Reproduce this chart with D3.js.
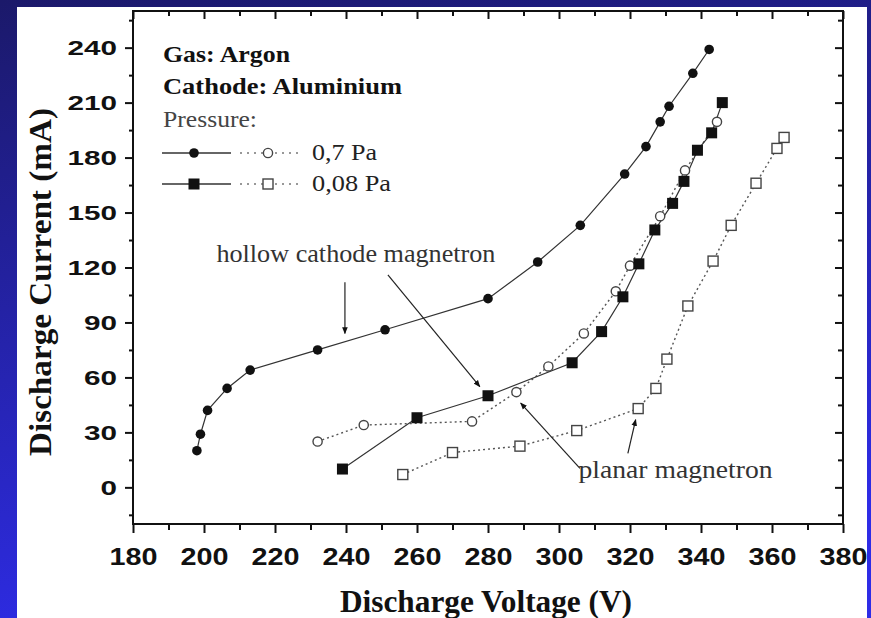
<!DOCTYPE html>
<html><head><meta charset="utf-8">
<script src="https://cdn.jsdelivr.net/npm/d3@7"></script>
<style>html,body{margin:0;padding:0;background:#1c1a6c;}svg{display:block;}
.serif{font-family:"Liberation Serif","Times New Roman",Times,serif;}
.sans{font-family:"Liberation Sans",Arial,Helvetica,sans-serif;}
</style>
</head><body>
<script>
// ---- data (Discharge Voltage V, Discharge Current mA) ----
const hollow07V = [198, 199, 201, 206.5, 213, 232, 251, 280, 294, 306, 318.5, 324.5, 328.5, 331, 337.7, 342.3];
const hollow07I = [20, 29, 42, 54, 64, 75, 86, 103, 123, 143, 171, 186, 199.5, 208, 226, 239];
const planar07V = [232, 245, 275.5, 288, 297, 307, 316, 320, 328.5, 335.5, 344.5];
const planar07I = [25, 34, 36, 52, 66, 84, 107, 121, 148, 173, 199.5];
const hollow008V = [239, 260, 280, 303.7, 312, 318, 322.5, 327, 332, 335.2, 339, 343, 346];
const hollow008I = [10, 38, 50, 68, 85, 104, 122, 140.5, 155, 167, 184, 193.5, 210];
const planar008V = [256, 270, 289, 305, 322.3, 327.3, 330.4, 336.3, 343.4, 348.5, 355.5, 361.4, 363.4];
const planar008I = [7, 19, 22.5, 31, 43, 54, 70, 99, 123.5, 143, 166, 185, 191];
const xTicks = [180, 200, 220, 240, 260, 280, 300, 320, 340, 360, 380];
const yTicks = [0, 30, 60, 90, 120, 150, 180, 210, 240];
const infoLines = ["Gas: Argon", "Cathode: Aluminium", "Pressure:"];
const legendLabels = ["0,7 Pa", "0,08 Pa"];
const xTitle = "Discharge Voltage (V)";
const yTitle = "Discharge Current (mA)";
// annotations in data units: label, position, arrows [from, to]
const hollowLabel = {text: "hollow cathode magnetron", v: 203.5, i: 123};
const hollowArrows = [[[239.7, 112], [239.7, 84]], [[251.8, 116], [277.7, 55]]];
const planarLabel = {text: "planar magnetron", v: 305.5, i: 5};
const planarArrows = [[[305.9, 10.4], [289.2, 46]], [[319.4, 18.6], [321.6, 37]]];

const W = 871, H = 618;
const svg = d3.select("body").append("svg").attr("width", W).attr("height", H);
const defs = svg.append("defs");
const grad = defs.append("linearGradient").attr("id", "bg").attr("x1", 0).attr("y1", 0).attr("x2", 0.25).attr("y2", 1);
grad.append("stop").attr("offset", "0%").attr("stop-color", "#1b196a");
grad.append("stop").attr("offset", "100%").attr("stop-color", "#2e2ce6");
svg.append("rect").attr("width", W).attr("height", H).attr("fill", "url(#bg)");
svg.append("rect").attr("x", 17).attr("y", 7).attr("width", 850).attr("height", 611).attr("fill", "#ffffff");

defs.append("marker").attr("id", "arr").attr("viewBox", "0 0 10 10").attr("refX", 9).attr("refY", 5)
  .attr("markerWidth", 7).attr("markerHeight", 7).attr("markerUnits", "userSpaceOnUse").attr("orient", "auto")
  .append("path").attr("d", "M0,1 L10,5 L0,9 Z").attr("fill", "#111");

const L = 133, R = 843, T = 11, B = 524;
const x = d3.scaleLinear().domain([180, 380]).range([L, R]);
const y = d3.scaleLinear().domain([-20, 260]).range([B, T]);

// axes
const minorX = d3.range(190, 380, 20);
const minorY = d3.range(-15, 260, 30);
function drawAxis(gen, tr) {
  const g = svg.append("g").attr("transform", tr).call(gen);
  g.selectAll(".domain").remove();
  g.selectAll("line").attr("stroke", "#111").attr("stroke-width", 2);
  g.attr("font-family", null).attr("font-size", null);
  return g;
}
const gxB = drawAxis(d3.axisBottom(x).tickValues(xTicks).tickSize(9).tickPadding(11).tickFormat(d3.format("d")), `translate(0,${B})`);
gxB.selectAll("text").attr("class", "sans").attr("font-weight", "bold").attr("font-size", 23).attr("fill", "#111")
  .attr("textLength", 48).attr("lengthAdjust", "spacingAndGlyphs").attr("dy", "0.92em");
drawAxis(d3.axisBottom(x).tickValues(minorX).tickSize(6).tickFormat(""), `translate(0,${B})`);
const gyL = drawAxis(d3.axisLeft(y).tickValues(yTicks).tickSize(8).tickPadding(8).tickFormat(d3.format("d")), `translate(${L},0)`);
gyL.selectAll("text").attr("class", "sans").attr("font-weight", "bold").attr("font-size", 21).attr("fill", "#111")
  .attr("textLength", d => String(d).length * 16.5).attr("lengthAdjust", "spacingAndGlyphs");
drawAxis(d3.axisLeft(y).tickValues(minorY).tickSize(4).tickFormat(""), `translate(${L},0)`);
// inner ticks top and right
drawAxis(d3.axisBottom(x).tickValues(xTicks).tickSize(8).tickFormat(""), `translate(0,${T})`);
drawAxis(d3.axisBottom(x).tickValues(minorX).tickSize(5).tickFormat(""), `translate(0,${T})`);
drawAxis(d3.axisLeft(y).tickValues(yTicks).tickSize(8).tickFormat(""), `translate(${R},0)`);
drawAxis(d3.axisLeft(y).tickValues(minorY).tickSize(5).tickFormat(""), `translate(${R},0)`);
svg.append("rect").attr("x", L).attr("y", T).attr("width", R - L).attr("height", B - T)
  .attr("fill", "none").attr("stroke", "#111").attr("stroke-width", 2);

// axis titles
svg.append("text").attr("class", "serif").attr("x", (L + R) / 2 - 2).attr("y", 612).attr("text-anchor", "middle")
  .attr("font-weight", "bold").attr("font-size", 31).attr("fill", "#111")
  .attr("textLength", 292).attr("lengthAdjust", "spacingAndGlyphs").text(xTitle);
svg.append("text").attr("class", "serif").attr("transform", `translate(51,${(108 + 456) / 2}) rotate(-90)`).attr("text-anchor", "middle")
  .attr("font-weight", "bold").attr("font-size", 31).attr("fill", "#111")
  .attr("textLength", 348).attr("lengthAdjust", "spacingAndGlyphs").text(yTitle);

// series
const pairs = (a, b) => a.map((v, k) => [v, b[k]]);
const line = d3.line().x(d => x(d[0])).y(d => y(d[1]));
const series = [
  {data: pairs(hollow07V, hollow07I), shape: "circle", filled: true},
  {data: pairs(planar07V, planar07I), shape: "circle", filled: false},
  {data: pairs(hollow008V, hollow008I), shape: "square", filled: true},
  {data: pairs(planar008V, planar008I), shape: "square", filled: false}
];
function drawMarker(g, shape, filled, cx, cy) {
  if (shape === "circle") {
    g.append("circle").attr("cx", cx).attr("cy", cy).attr("r", filled ? 4.8 : 4.6)
      .attr("fill", filled ? "#111" : "#fff").attr("stroke", filled ? "none" : "#444").attr("stroke-width", 1.4);
  } else {
    const s = filled ? 11 : 10;
    g.append("rect").attr("x", cx - s / 2).attr("y", cy - s / 2).attr("width", s).attr("height", s)
      .attr("fill", filled ? "#111" : "#fff").attr("stroke", filled ? "none" : "#444").attr("stroke-width", 1.4);
  }
}
series.forEach(s => {
  svg.append("path").datum(s.data).attr("d", line).attr("fill", "none")
    .attr("stroke", s.filled ? "#333" : "#555").attr("stroke-width", s.filled ? 1.2 : 1.4)
    .attr("stroke-dasharray", s.filled ? null : "2,3");
});
series.forEach(s => {
  const g = svg.append("g");
  s.data.forEach(d => drawMarker(g, s.shape, s.filled, x(d[0]), y(d[1])));
});

// info text + legend
const info = svg.append("g");
const infoY = [62, 94, 127];
const infoW = [127, 239, 94];
infoLines.forEach((t, k) => {
  info.append("text").attr("class", "serif").attr("x", 163).attr("y", infoY[k])
    .attr("font-weight", k < 2 ? "bold" : "normal").attr("font-size", 23).attr("fill", k < 2 ? "#111" : "#444")
    .attr("textLength", infoW[k]).attr("lengthAdjust", "spacingAndGlyphs").text(t);
});
const legY = [153, 184];
const legW = [65, 79];
legendLabels.forEach((t, k) => {
  const shape = k === 0 ? "circle" : "square";
  info.append("line").attr("x1", 162).attr("x2", 231).attr("y1", legY[k]).attr("y2", legY[k]).attr("stroke", "#333").attr("stroke-width", 1.3);
  info.append("line").attr("x1", 240).attr("x2", 303).attr("y1", legY[k]).attr("y2", legY[k]).attr("stroke", "#777")
    .attr("stroke-width", 1.4).attr("stroke-dasharray", "2,5");
  drawMarker(info, shape, true, 194, legY[k]);
  drawMarker(info, shape, false, 268, legY[k]);
  info.append("text").attr("class", "serif").attr("x", 312).attr("y", legY[k] + 7).attr("font-size", 23).attr("fill", "#222")
    .attr("textLength", legW[k]).attr("lengthAdjust", "spacingAndGlyphs").text(t);
});

// annotations
svg.append("text").attr("class", "serif").attr("x", x(hollowLabel.v)).attr("y", y(hollowLabel.i)).attr("font-size", 25)
  .attr("fill", "#333").attr("textLength", 279).attr("lengthAdjust", "spacingAndGlyphs").text(hollowLabel.text);
svg.append("text").attr("class", "serif").attr("x", x(planarLabel.v)).attr("y", y(planarLabel.i)).attr("font-size", 25)
  .attr("fill", "#333").attr("textLength", 194).attr("lengthAdjust", "spacingAndGlyphs").text(planarLabel.text);
hollowArrows.concat(planarArrows).forEach(a => {
  svg.append("line").attr("x1", x(a[0][0])).attr("y1", y(a[0][1])).attr("x2", x(a[1][0])).attr("y2", y(a[1][1]))
    .attr("stroke", "#222").attr("stroke-width", 1.2).attr("marker-end", "url(#arr)");
});
</script>
</body></html>
